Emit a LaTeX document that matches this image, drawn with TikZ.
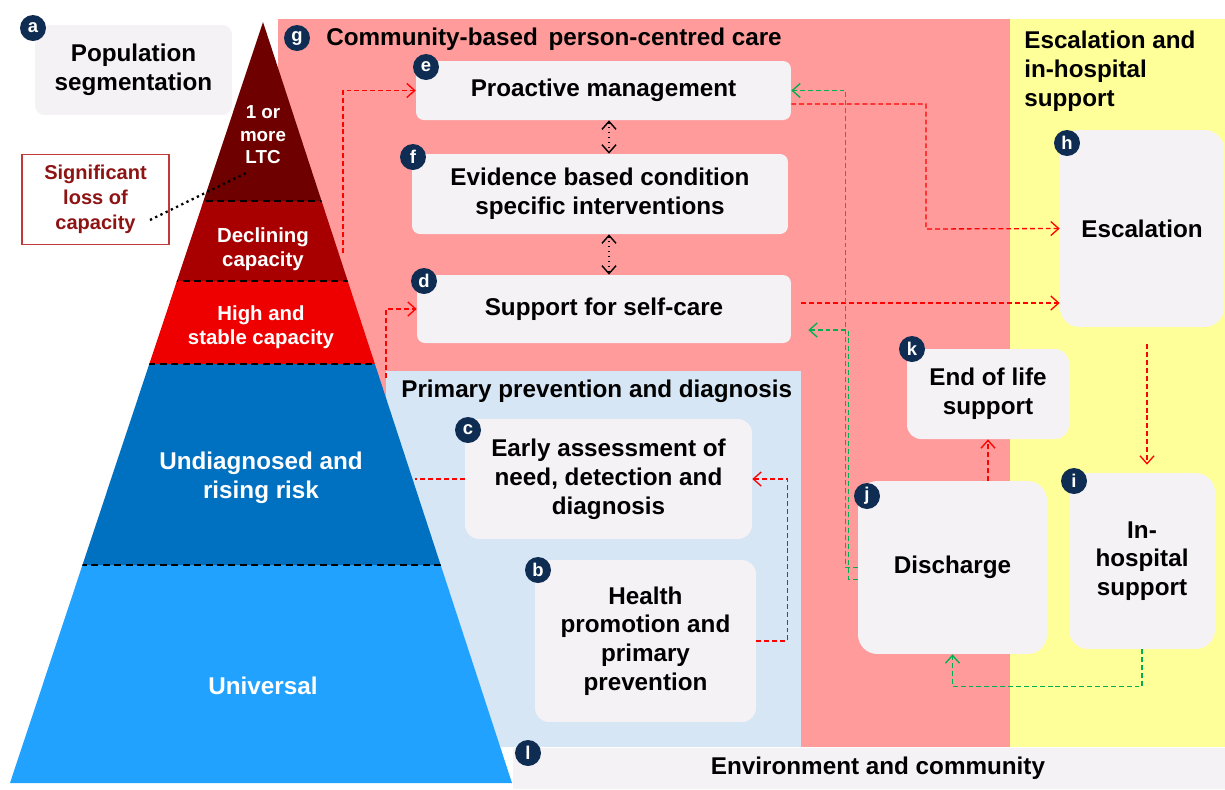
\documentclass[tikz,border=0pt]{standalone}
\usepackage{fontspec}
\setmainfont{Liberation Sans}
\usetikzlibrary{arrows.meta}

\definecolor{carepink}{HTML}{FF9B9B}
\definecolor{hospyellow}{HTML}{FFFF99}
\definecolor{primblue}{HTML}{D6E6F5}
\definecolor{cardgrey}{HTML}{F5F2F6}
\definecolor{badgenavy}{HTML}{0F2D52}
\definecolor{ltcred}{HTML}{6E0000}
\definecolor{declred}{HTML}{A80000}
\definecolor{stablered}{HTML}{EE0000}
\definecolor{riskblue}{HTML}{0070C0}
\definecolor{univblue}{HTML}{22A2FF}
\definecolor{losstext}{HTML}{8E1414}
\definecolor{lossline}{HTML}{C03A3A}
\definecolor{flowred}{HTML}{FF0000}
\definecolor{flowgreen}{HTML}{00B050}

\tikzset{
  cardfont/.style={font=\fontsize{13.8}{16.4}\selectfont\bfseries},
  card/.style={cardfont, fill=cardgrey, rounded corners=4.5pt, align=center, inner sep=0pt},
  bigcard/.style={card, rounded corners=11pt},
  badge/.style={circle, fill=badgenavy, text=white, inner sep=0pt, minimum size=0.52cm,
    font=\fontsize{10.5}{10.5}\selectfont\bfseries},
  layer/.style={text=white, align=center, font=\fontsize{11.6}{13.8}\selectfont\bfseries},
  barb/.style={-{Straight Barb[length=4.5pt,width=8pt]}},
  redflow/.style={flowred, line width=0.75pt, dash pattern=on 2.8pt off 1.7pt},
  greenflow/.style={flowgreen, line width=0.75pt, dash pattern=on 2.8pt off 1.7pt, barb},
  twoway/.style={black, line width=0.8pt, dotted, {Straight Barb[length=4.5pt,width=8pt]}-{Straight Barb[length=4.5pt,width=8pt]}},
}

\begin{document}
\begin{tikzpicture}[x=0.02cm, y=-0.02cm]
\useasboundingbox (0,0) rectangle (1225,789);
\fill[white] (0,0) rectangle (1225,789);
% care settings
\fill[carepink] (278,19) rectangle (1010,747);
\fill[hospyellow] (1010,19) rectangle (1225,747);
\fill[primblue] (386,371) rectangle (801,747);
\node[cardfont, fill=cardgrey, minimum width=14.6cm, minimum height=0.82cm, inner sep=0pt]
  (env) at (878,768.5) {Environment and community};
% pyramid
\scope
\clip (263,22) -- (512,783) -- (10,783) -- cycle;
\fill[ltcred] (0,0) rectangle (525,201);
\fill[declred] (0,201) rectangle (525,281);
\fill[stablered] (0,281) rectangle (525,364);
\fill[riskblue] (0,364) rectangle (525,565);
\fill[univblue] (0,565) rectangle (525,789);
\draw[line width=1.1pt, dash pattern=on 4pt off 2.5pt]
  (0,201) -- (525,201) (0,281) -- (525,281)
  (0,364) -- (525,364) (0,565) -- (525,565);
\endscope
\node[layer, font=\fontsize{10.7}{12.8}\selectfont\bfseries] (ltc) at (263,135) {1 or\\more\\LTC};
\node[layer] (declining) at (263,249) {Declining\\capacity};
\node[layer] (stable) at (261,327) {High and\\stable capacity};
\node[layer, cardfont] (rising) at (261,478) {Undiagnosed and\\rising risk};
\node[layer, cardfont] (universal) at (263,686) {Universal};
% loss of capacity
\node[draw=lossline, line width=0.6pt, fill=white, text=losstext, align=center,
  minimum width=2.94cm, minimum height=1.8cm, inner sep=0pt,
  font=\fontsize{11.4}{14.2}\selectfont\bfseries] (loss) at (95.5,199.5) {Significant\\loss of\\capacity};
\coordinate (loss-dot) at (150,220);
\coordinate (ltc-dot) at (248,172);
\draw[line width=1.3pt, dotted] (loss-dot) -- (ltc-dot);
% cards
\node[card, rounded corners=5.5pt, minimum width=3.94cm, minimum height=1.8cm] (pop) at (133.5,70) {Population\\segmentation};
\node[card, minimum width=7.5cm, minimum height=1.18cm] (e) at (603.5,90.5) {Proactive management};
\node[card, minimum width=7.52cm, minimum height=1.6cm] (f) at (600,194) {Evidence based condition\\specific interventions};
\node[card, minimum width=7.48cm, minimum height=1.36cm] (d) at (604,309) {Support for self-care};
\node[card, rounded corners=8pt, minimum width=5.74cm, minimum height=2.4cm] (c) at (608.5,479) {Early assessment of\\need, detection and\\diagnosis};
\node[card, rounded corners=8pt, minimum width=4.42cm, minimum height=3.24cm] (b) at (645.5,641) {Health\\promotion and\\primary\\prevention};
\node[bigcard, minimum width=3.28cm, minimum height=3.94cm] (h) at (1142,228.5) {Escalation};
\node[card, rounded corners=8pt, minimum width=3.24cm, minimum height=1.8cm] (k) at (988,394) {End of life\\support};
\node[bigcard, minimum width=3.78cm, minimum height=3.46cm] (j) at (952.5,567.5) {Discharge};
\node[bigcard, minimum width=2.92cm, minimum height=3.52cm] (i) at (1142,561) {In-\\hospital\\support};
% headings
\node[cardfont, anchor=west, inner sep=0pt] (care-title) at (326,39) {Community-based\, person-centred care};
\node[cardfont, anchor=west, inner sep=0pt] (prim-title) at (401,391) {Primary prevention and diagnosis};
\node[cardfont, anchor=west, align=left, inner sep=0pt] (esc-title) at (1024,71) {Escalation and\\in-hospital\\support};
% red flows
\coordinate (declining-out) at (343,253);
\coordinate (stable-out) at (386,378);
\coordinate (rising-in) at (415,479);
\coordinate (esc-bend) at (926,229);
\draw[redflow, barb] (declining-out) |- (e.west);
\draw[redflow, barb] (stable-out) |- (d.west);
\draw[redflow] (c.west) -- (rising-in);
\draw[redflow, barb] (b.east) -- ++(31,0) |- (c.east);
\draw[redflow, barb] ([yshift=-0.27cm]e.east) -| (esc-bend) -- (h.west);
\draw[redflow, barb] ([xshift=0.2cm,yshift=0.12cm]d.east) coordinate (selfcare-out) -- (selfcare-out -| h.west);
\draw[redflow, barb] ([xshift=0.1cm,yshift=-0.34cm]h.south) -- ([xshift=0.1cm,yshift=0.16cm]i.north);
\draw[redflow, barb] (j.north -| k.south) -- (k.south);
% green flows
\draw[greenflow] (j.west) -- ++(-12,0) |- (e.east);
\draw[greenflow] ([yshift=-0.24cm]j.west) -- ++(-9,0) |- ([xshift=0.34cm,yshift=-0.42cm]d.east);
\draw[greenflow] (i.south) -- ++(0,37) -| (j.south);
% linked interventions
\draw[twoway] ([xshift=0.11cm]e.south) coordinate (ef) -- (ef |- f.north);
\draw[twoway] ([xshift=0.18cm]f.south) coordinate (fd) -- (fd |- d.north);
% badges
\node[badge] (badge-a) at (33,28) {a};
\node[badge] (badge-b) at (538,570) {b};
\node[badge] (badge-c) at (468,430) {c};
\node[badge] (badge-d) at (424,281) {d};
\node[badge] (badge-e) at (426,67) {e};
\node[badge] (badge-f) at (413,157) {f};
\node[badge] (badge-g) at (297,38) {g};
\node[badge] (badge-h) at (1067,143) {h};
\node[badge] (badge-i) at (1074,481) {i};
\node[badge] (badge-j) at (867,496) {j};
\node[badge] (badge-k) at (912,349) {k};
\node[badge] (badge-l) at (528,753) {l};
\end{tikzpicture}
\end{document}
